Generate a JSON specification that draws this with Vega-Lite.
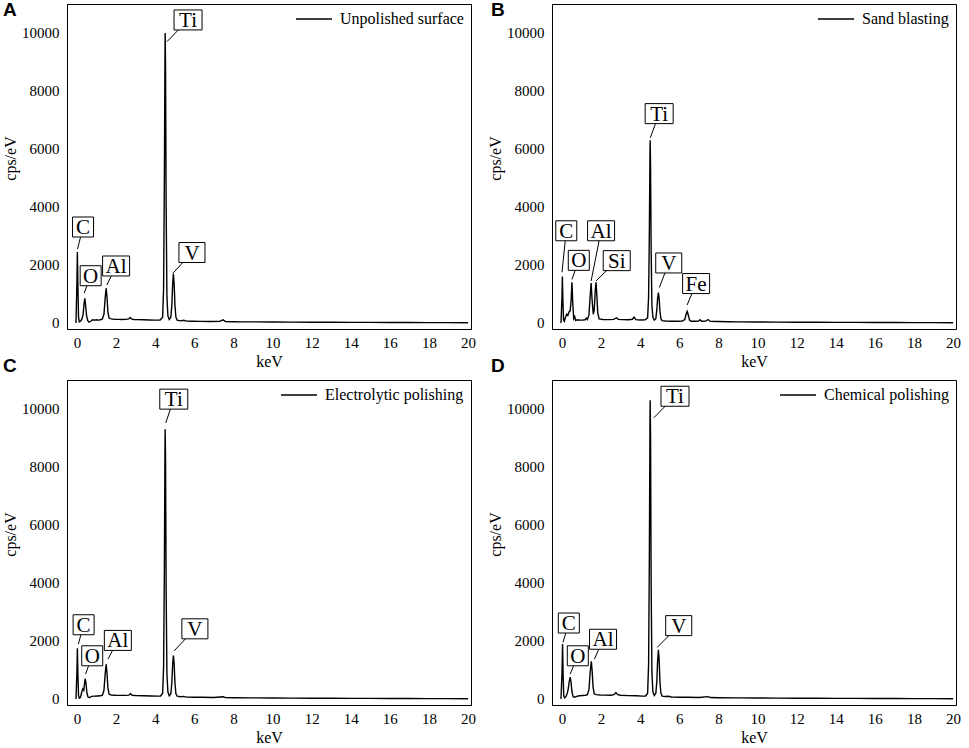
{
  "$schema": "https://vega.github.io/schema/vega-lite/v6.json",
  "padding": {"left": 2, "top": 0, "right": 4, "bottom": 4},
  "background": "white",
  "datasets": {
    "spec": [
      {"s":"Unpolished surface","e":-0.05,"c":0},{"s":"Unpolished surface","e":0.0,"c":1500},{"s":"Unpolished surface","e":0.02,"c":2450},{"s":"Unpolished surface","e":0.05,"c":1200},{"s":"Unpolished surface","e":0.08,"c":200},{"s":"Unpolished surface","e":0.12,"c":40},{"s":"Unpolished surface","e":0.18,"c":60},{"s":"Unpolished surface","e":0.25,"c":130},{"s":"Unpolished surface","e":0.31,"c":280},{"s":"Unpolished surface","e":0.36,"c":650},{"s":"Unpolished surface","e":0.40,"c":850},{"s":"Unpolished surface","e":0.44,"c":620},{"s":"Unpolished surface","e":0.49,"c":250},{"s":"Unpolished surface","e":0.55,"c":80},{"s":"Unpolished surface","e":0.62,"c":30},{"s":"Unpolished surface","e":0.7,"c":60},{"s":"Unpolished surface","e":0.8,"c":110},{"s":"Unpolished surface","e":0.9,"c":100},{"s":"Unpolished surface","e":1.0,"c":110},{"s":"Unpolished surface","e":1.1,"c":100},{"s":"Unpolished surface","e":1.2,"c":110},{"s":"Unpolished surface","e":1.3,"c":140},{"s":"Unpolished surface","e":1.38,"c":300},{"s":"Unpolished surface","e":1.44,"c":850},{"s":"Unpolished surface","e":1.49,"c":1200},{"s":"Unpolished surface","e":1.53,"c":950},{"s":"Unpolished surface","e":1.58,"c":400},{"s":"Unpolished surface","e":1.64,"c":170},{"s":"Unpolished surface","e":1.75,"c":140},{"s":"Unpolished surface","e":1.9,"c":130},{"s":"Unpolished surface","e":2.1,"c":125},{"s":"Unpolished surface","e":2.3,"c":120},{"s":"Unpolished surface","e":2.5,"c":125},{"s":"Unpolished surface","e":2.65,"c":140},{"s":"Unpolished surface","e":2.72,"c":190},{"s":"Unpolished surface","e":2.79,"c":140},{"s":"Unpolished surface","e":2.9,"c":120},{"s":"Unpolished surface","e":3.1,"c":115},{"s":"Unpolished surface","e":3.4,"c":110},{"s":"Unpolished surface","e":3.7,"c":105},{"s":"Unpolished surface","e":4.0,"c":100},{"s":"Unpolished surface","e":4.25,"c":105},{"s":"Unpolished surface","e":4.38,"c":200},{"s":"Unpolished surface","e":4.43,"c":1200},{"s":"Unpolished surface","e":4.47,"c":5000},{"s":"Unpolished surface","e":4.50,"c":9200},{"s":"Unpolished surface","e":4.51,"c":10000},{"s":"Unpolished surface","e":4.53,"c":8800},{"s":"Unpolished surface","e":4.56,"c":4000},{"s":"Unpolished surface","e":4.60,"c":900},{"s":"Unpolished surface","e":4.65,"c":250},{"s":"Unpolished surface","e":4.72,"c":120},{"s":"Unpolished surface","e":4.8,"c":200},{"s":"Unpolished surface","e":4.85,"c":600},{"s":"Unpolished surface","e":4.89,"c":1300},{"s":"Unpolished surface","e":4.93,"c":1700},{"s":"Unpolished surface","e":4.97,"c":1350},{"s":"Unpolished surface","e":5.01,"c":600},{"s":"Unpolished surface","e":5.06,"c":200},{"s":"Unpolished surface","e":5.12,"c":100},{"s":"Unpolished surface","e":5.3,"c":75},{"s":"Unpolished surface","e":5.45,"c":95},{"s":"Unpolished surface","e":5.6,"c":65},{"s":"Unpolished surface","e":5.9,"c":60},{"s":"Unpolished surface","e":6.3,"c":55},{"s":"Unpolished surface","e":6.8,"c":52},{"s":"Unpolished surface","e":7.3,"c":55},{"s":"Unpolished surface","e":7.47,"c":110},{"s":"Unpolished surface","e":7.6,"c":50},{"s":"Unpolished surface","e":8.0,"c":45},{"s":"Unpolished surface","e":8.5,"c":40},{"s":"Unpolished surface","e":9,"c":40},{"s":"Unpolished surface","e":10,"c":35},{"s":"Unpolished surface","e":11,"c":30},{"s":"Unpolished surface","e":12,"c":28},{"s":"Unpolished surface","e":13,"c":25},{"s":"Unpolished surface","e":14,"c":22},{"s":"Unpolished surface","e":15,"c":20},{"s":"Unpolished surface","e":16,"c":18},{"s":"Unpolished surface","e":17,"c":15},{"s":"Unpolished surface","e":18,"c":13},{"s":"Unpolished surface","e":19,"c":12},{"s":"Unpolished surface","e":20,"c":10},

      {"s":"Sand blasting","e":-0.05,"c":0},{"s":"Sand blasting","e":0.0,"c":900},{"s":"Sand blasting","e":0.02,"c":1600},{"s":"Sand blasting","e":0.05,"c":700},{"s":"Sand blasting","e":0.08,"c":100},{"s":"Sand blasting","e":0.12,"c":60},{"s":"Sand blasting","e":0.18,"c":200},{"s":"Sand blasting","e":0.24,"c":300},{"s":"Sand blasting","e":0.3,"c":260},{"s":"Sand blasting","e":0.36,"c":380},{"s":"Sand blasting","e":0.42,"c":420},{"s":"Sand blasting","e":0.47,"c":800},{"s":"Sand blasting","e":0.51,"c":1400},{"s":"Sand blasting","e":0.55,"c":700},{"s":"Sand blasting","e":0.6,"c":150},{"s":"Sand blasting","e":0.65,"c":220},{"s":"Sand blasting","e":0.7,"c":90},{"s":"Sand blasting","e":0.8,"c":110},{"s":"Sand blasting","e":0.9,"c":100},{"s":"Sand blasting","e":1.05,"c":100},{"s":"Sand blasting","e":1.18,"c":110},{"s":"Sand blasting","e":1.25,"c":170},{"s":"Sand blasting","e":1.3,"c":120},{"s":"Sand blasting","e":1.38,"c":280},{"s":"Sand blasting","e":1.44,"c":900},{"s":"Sand blasting","e":1.49,"c":1380},{"s":"Sand blasting","e":1.54,"c":800},{"s":"Sand blasting","e":1.6,"c":300},{"s":"Sand blasting","e":1.65,"c":450},{"s":"Sand blasting","e":1.70,"c":1100},{"s":"Sand blasting","e":1.74,"c":1400},{"s":"Sand blasting","e":1.78,"c":1000},{"s":"Sand blasting","e":1.83,"c":350},{"s":"Sand blasting","e":1.9,"c":140},{"s":"Sand blasting","e":2.1,"c":120},{"s":"Sand blasting","e":2.4,"c":115},{"s":"Sand blasting","e":2.65,"c":125},{"s":"Sand blasting","e":2.78,"c":180},{"s":"Sand blasting","e":2.88,"c":125},{"s":"Sand blasting","e":3.1,"c":115},{"s":"Sand blasting","e":3.4,"c":110},{"s":"Sand blasting","e":3.6,"c":130},{"s":"Sand blasting","e":3.69,"c":200},{"s":"Sand blasting","e":3.78,"c":115},{"s":"Sand blasting","e":4.0,"c":105},{"s":"Sand blasting","e":4.25,"c":110},{"s":"Sand blasting","e":4.38,"c":180},{"s":"Sand blasting","e":4.43,"c":900},{"s":"Sand blasting","e":4.47,"c":3200},{"s":"Sand blasting","e":4.50,"c":5800},{"s":"Sand blasting","e":4.51,"c":6300},{"s":"Sand blasting","e":4.53,"c":5400},{"s":"Sand blasting","e":4.56,"c":2500},{"s":"Sand blasting","e":4.60,"c":600},{"s":"Sand blasting","e":4.65,"c":200},{"s":"Sand blasting","e":4.72,"c":100},{"s":"Sand blasting","e":4.8,"c":150},{"s":"Sand blasting","e":4.85,"c":450},{"s":"Sand blasting","e":4.89,"c":850},{"s":"Sand blasting","e":4.93,"c":1050},{"s":"Sand blasting","e":4.97,"c":850},{"s":"Sand blasting","e":5.01,"c":400},{"s":"Sand blasting","e":5.06,"c":150},{"s":"Sand blasting","e":5.12,"c":80},{"s":"Sand blasting","e":5.3,"c":70},{"s":"Sand blasting","e":5.6,"c":60},{"s":"Sand blasting","e":5.9,"c":60},{"s":"Sand blasting","e":6.15,"c":65},{"s":"Sand blasting","e":6.28,"c":120},{"s":"Sand blasting","e":6.35,"c":300},{"s":"Sand blasting","e":6.40,"c":400},{"s":"Sand blasting","e":6.45,"c":300},{"s":"Sand blasting","e":6.52,"c":110},{"s":"Sand blasting","e":6.6,"c":60},{"s":"Sand blasting","e":6.8,"c":60},{"s":"Sand blasting","e":6.98,"c":70},{"s":"Sand blasting","e":7.06,"c":110},{"s":"Sand blasting","e":7.13,"c":60},{"s":"Sand blasting","e":7.35,"c":65},{"s":"Sand blasting","e":7.47,"c":120},{"s":"Sand blasting","e":7.58,"c":55},{"s":"Sand blasting","e":8.0,"c":50},{"s":"Sand blasting","e":8.5,"c":45},{"s":"Sand blasting","e":9,"c":40},{"s":"Sand blasting","e":10,"c":35},{"s":"Sand blasting","e":11,"c":30},{"s":"Sand blasting","e":12,"c":28},{"s":"Sand blasting","e":13,"c":25},{"s":"Sand blasting","e":14,"c":22},{"s":"Sand blasting","e":15,"c":20},{"s":"Sand blasting","e":16,"c":18},{"s":"Sand blasting","e":17,"c":15},{"s":"Sand blasting","e":18,"c":13},{"s":"Sand blasting","e":19,"c":12},{"s":"Sand blasting","e":20,"c":10},

      {"s":"Electrolytic polishing","e":-0.05,"c":0},{"s":"Electrolytic polishing","e":0.0,"c":1000},{"s":"Electrolytic polishing","e":0.02,"c":1750},{"s":"Electrolytic polishing","e":0.05,"c":800},{"s":"Electrolytic polishing","e":0.08,"c":120},{"s":"Electrolytic polishing","e":0.12,"c":30},{"s":"Electrolytic polishing","e":0.18,"c":60},{"s":"Electrolytic polishing","e":0.25,"c":250},{"s":"Electrolytic polishing","e":0.3,"c":350},{"s":"Electrolytic polishing","e":0.35,"c":300},{"s":"Electrolytic polishing","e":0.39,"c":550},{"s":"Electrolytic polishing","e":0.42,"c":700},{"s":"Electrolytic polishing","e":0.46,"c":550},{"s":"Electrolytic polishing","e":0.51,"c":200},{"s":"Electrolytic polishing","e":0.57,"c":60},{"s":"Electrolytic polishing","e":0.65,"c":50},{"s":"Electrolytic polishing","e":0.75,"c":90},{"s":"Electrolytic polishing","e":0.9,"c":100},{"s":"Electrolytic polishing","e":1.05,"c":105},{"s":"Electrolytic polishing","e":1.2,"c":110},{"s":"Electrolytic polishing","e":1.3,"c":130},{"s":"Electrolytic polishing","e":1.38,"c":300},{"s":"Electrolytic polishing","e":1.44,"c":850},{"s":"Electrolytic polishing","e":1.49,"c":1200},{"s":"Electrolytic polishing","e":1.53,"c":950},{"s":"Electrolytic polishing","e":1.58,"c":400},{"s":"Electrolytic polishing","e":1.64,"c":170},{"s":"Electrolytic polishing","e":1.75,"c":140},{"s":"Electrolytic polishing","e":1.95,"c":130},{"s":"Electrolytic polishing","e":2.2,"c":125},{"s":"Electrolytic polishing","e":2.5,"c":125},{"s":"Electrolytic polishing","e":2.65,"c":135},{"s":"Electrolytic polishing","e":2.74,"c":180},{"s":"Electrolytic polishing","e":2.82,"c":130},{"s":"Electrolytic polishing","e":3.0,"c":120},{"s":"Electrolytic polishing","e":3.4,"c":110},{"s":"Electrolytic polishing","e":3.8,"c":105},{"s":"Electrolytic polishing","e":4.1,"c":100},{"s":"Electrolytic polishing","e":4.28,"c":105},{"s":"Electrolytic polishing","e":4.38,"c":200},{"s":"Electrolytic polishing","e":4.43,"c":1100},{"s":"Electrolytic polishing","e":4.47,"c":4500},{"s":"Electrolytic polishing","e":4.50,"c":8600},{"s":"Electrolytic polishing","e":4.51,"c":9300},{"s":"Electrolytic polishing","e":4.53,"c":8200},{"s":"Electrolytic polishing","e":4.56,"c":3700},{"s":"Electrolytic polishing","e":4.60,"c":850},{"s":"Electrolytic polishing","e":4.65,"c":240},{"s":"Electrolytic polishing","e":4.72,"c":110},{"s":"Electrolytic polishing","e":4.8,"c":180},{"s":"Electrolytic polishing","e":4.85,"c":550},{"s":"Electrolytic polishing","e":4.89,"c":1150},{"s":"Electrolytic polishing","e":4.93,"c":1500},{"s":"Electrolytic polishing","e":4.97,"c":1200},{"s":"Electrolytic polishing","e":5.01,"c":550},{"s":"Electrolytic polishing","e":5.06,"c":180},{"s":"Electrolytic polishing","e":5.12,"c":100},{"s":"Electrolytic polishing","e":5.3,"c":80},{"s":"Electrolytic polishing","e":5.45,"c":90},{"s":"Electrolytic polishing","e":5.6,"c":65},{"s":"Electrolytic polishing","e":6.0,"c":60},{"s":"Electrolytic polishing","e":6.4,"c":58},{"s":"Electrolytic polishing","e":7.0,"c":50},{"s":"Electrolytic polishing","e":7.47,"c":75},{"s":"Electrolytic polishing","e":7.6,"c":48},{"s":"Electrolytic polishing","e":8,"c":45},{"s":"Electrolytic polishing","e":9,"c":40},{"s":"Electrolytic polishing","e":10,"c":35},{"s":"Electrolytic polishing","e":11,"c":30},{"s":"Electrolytic polishing","e":12,"c":28},{"s":"Electrolytic polishing","e":13,"c":25},{"s":"Electrolytic polishing","e":14,"c":22},{"s":"Electrolytic polishing","e":15,"c":20},{"s":"Electrolytic polishing","e":16,"c":18},{"s":"Electrolytic polishing","e":17,"c":15},{"s":"Electrolytic polishing","e":18,"c":13},{"s":"Electrolytic polishing","e":19,"c":12},{"s":"Electrolytic polishing","e":20,"c":10},

      {"s":"Chemical polishing","e":-0.05,"c":0},{"s":"Chemical polishing","e":0.0,"c":900},{"s":"Chemical polishing","e":0.03,"c":1900},{"s":"Chemical polishing","e":0.06,"c":800},{"s":"Chemical polishing","e":0.09,"c":120},{"s":"Chemical polishing","e":0.13,"c":40},{"s":"Chemical polishing","e":0.2,"c":80},{"s":"Chemical polishing","e":0.27,"c":200},{"s":"Chemical polishing","e":0.32,"c":350},{"s":"Chemical polishing","e":0.37,"c":600},{"s":"Chemical polishing","e":0.42,"c":750},{"s":"Chemical polishing","e":0.46,"c":600},{"s":"Chemical polishing","e":0.51,"c":250},{"s":"Chemical polishing","e":0.57,"c":80},{"s":"Chemical polishing","e":0.65,"c":60},{"s":"Chemical polishing","e":0.75,"c":90},{"s":"Chemical polishing","e":0.9,"c":110},{"s":"Chemical polishing","e":1.05,"c":120},{"s":"Chemical polishing","e":1.2,"c":130},{"s":"Chemical polishing","e":1.3,"c":150},{"s":"Chemical polishing","e":1.38,"c":320},{"s":"Chemical polishing","e":1.44,"c":900},{"s":"Chemical polishing","e":1.50,"c":1300},{"s":"Chemical polishing","e":1.54,"c":1000},{"s":"Chemical polishing","e":1.59,"c":420},{"s":"Chemical polishing","e":1.65,"c":180},{"s":"Chemical polishing","e":1.75,"c":150},{"s":"Chemical polishing","e":1.95,"c":140},{"s":"Chemical polishing","e":2.2,"c":135},{"s":"Chemical polishing","e":2.5,"c":130},{"s":"Chemical polishing","e":2.66,"c":150},{"s":"Chemical polishing","e":2.76,"c":220},{"s":"Chemical polishing","e":2.85,"c":150},{"s":"Chemical polishing","e":3.0,"c":130},{"s":"Chemical polishing","e":3.4,"c":115},{"s":"Chemical polishing","e":3.8,"c":110},{"s":"Chemical polishing","e":4.1,"c":100},{"s":"Chemical polishing","e":4.28,"c":105},{"s":"Chemical polishing","e":4.38,"c":200},{"s":"Chemical polishing","e":4.43,"c":1200},{"s":"Chemical polishing","e":4.47,"c":5000},{"s":"Chemical polishing","e":4.50,"c":9500},{"s":"Chemical polishing","e":4.51,"c":10300},{"s":"Chemical polishing","e":4.53,"c":9000},{"s":"Chemical polishing","e":4.56,"c":4000},{"s":"Chemical polishing","e":4.60,"c":900},{"s":"Chemical polishing","e":4.65,"c":250},{"s":"Chemical polishing","e":4.72,"c":120},{"s":"Chemical polishing","e":4.8,"c":200},{"s":"Chemical polishing","e":4.85,"c":600},{"s":"Chemical polishing","e":4.89,"c":1300},{"s":"Chemical polishing","e":4.93,"c":1700},{"s":"Chemical polishing","e":4.97,"c":1350},{"s":"Chemical polishing","e":5.01,"c":600},{"s":"Chemical polishing","e":5.06,"c":200},{"s":"Chemical polishing","e":5.12,"c":100},{"s":"Chemical polishing","e":5.3,"c":85},{"s":"Chemical polishing","e":5.45,"c":95},{"s":"Chemical polishing","e":5.6,"c":70},{"s":"Chemical polishing","e":6.0,"c":60},{"s":"Chemical polishing","e":6.4,"c":58},{"s":"Chemical polishing","e":7.0,"c":52},{"s":"Chemical polishing","e":7.47,"c":80},{"s":"Chemical polishing","e":7.6,"c":50},{"s":"Chemical polishing","e":8,"c":45},{"s":"Chemical polishing","e":9,"c":40},{"s":"Chemical polishing","e":10,"c":35},{"s":"Chemical polishing","e":11,"c":30},{"s":"Chemical polishing","e":12,"c":28},{"s":"Chemical polishing","e":13,"c":25},{"s":"Chemical polishing","e":14,"c":22},{"s":"Chemical polishing","e":15,"c":20},{"s":"Chemical polishing","e":16,"c":18},{"s":"Chemical polishing","e":17,"c":15},{"s":"Chemical polishing","e":18,"c":13},{"s":"Chemical polishing","e":19,"c":12},{"s":"Chemical polishing","e":20,"c":10}
    ],
    "lab": [
      {"s":"Unpolished surface","el":"Ti","e":5.68,"c":10450,"e2":4.6,"c2":9700},
      {"s":"Unpolished surface","el":"C","e":0.31,"c":3310,"e2":0.03,"c2":2550},
      {"s":"Unpolished surface","el":"O","e":0.70,"c":1630,"e2":0.37,"c2":1030},
      {"s":"Unpolished surface","el":"Al","e":2.0,"c":1966,"e2":1.53,"c2":1310},
      {"s":"Unpolished surface","el":"V","e":5.88,"c":2430,"e2":4.9,"c2":1710},
      {"s":"Sand blasting","el":"Ti","e":4.97,"c":7220,"e2":4.52,"c2":6390},
      {"s":"Sand blasting","el":"C","e":0.22,"c":3180,"e2":0.0,"c2":1750},
      {"s":"Sand blasting","el":"O","e":0.86,"c":2160,"e2":0.51,"c2":1500},
      {"s":"Sand blasting","el":"Al","e":2.0,"c":3180,"e2":1.49,"c2":1450},
      {"s":"Sand blasting","el":"Si","e":2.8,"c":2150,"e2":1.74,"c2":1450},
      {"s":"Sand blasting","el":"V","e":5.46,"c":2070,"e2":4.98,"c2":1220},
      {"s":"Sand blasting","el":"Fe","e":6.86,"c":1360,"e2":6.4,"c2":620},
      {"s":"Electrolytic polishing","el":"Ti","e":4.95,"c":10340,"e2":4.54,"c2":9520},
      {"s":"Electrolytic polishing","el":"C","e":0.34,"c":2560,"e2":0.07,"c2":1890},
      {"s":"Electrolytic polishing","el":"O","e":0.78,"c":1490,"e2":0.44,"c2":860},
      {"s":"Electrolytic polishing","el":"Al","e":2.09,"c":2020,"e2":1.59,"c2":1380},
      {"s":"Electrolytic polishing","el":"V","e":6.03,"c":2420,"e2":4.97,"c2":1660},
      {"s":"Chemical polishing","el":"Ti","e":5.78,"c":10440,"e2":4.7,"c2":9700},
      {"s":"Chemical polishing","el":"C","e":0.35,"c":2620,"e2":0.05,"c2":1950},
      {"s":"Chemical polishing","el":"O","e":0.81,"c":1490,"e2":0.42,"c2":860},
      {"s":"Chemical polishing","el":"Al","e":2.1,"c":2060,"e2":1.66,"c2":1375},
      {"s":"Chemical polishing","el":"V","e":5.97,"c":2530,"e2":4.87,"c2":1780}
    ]
  },
  "columns": 2,
  "spacing": {"row": 51, "column": 81},
  "bounds": "flush",
  "resolve": {"scale": {"color": "independent", "shape": "independent"}, "legend": {"color": "independent"}},
  "concat": [
    {
      "width": 404, "height": 325,
      "title": {"text": "A", "anchor": "start", "frame": "group", "offset": -31, "dx": -64, "baseline": "alphabetic"},
      "encoding": {
        "x": {"field": "e", "type": "quantitative", "title": "keV", "scale": {"domain": [-0.51, 20.15], "nice": false, "zero": false},
              "axis": {"values": [0,1,2,3,4,5,6,7,8,9,10,11,12,13,14,15,16,17,18,19,20], "labelExpr": "datum.value % 2 === 0 ? datum.label : ''", "encode": {"ticks": {"update": {"y2": {"signal": "datum.value % 2 === 0 ? -5 : -3"}}}}}},
        "y": {"field": "c", "type": "quantitative", "title": "cps/eV", "scale": {"domain": [-207, 11000], "nice": false, "zero": false},
              "axis": {"values": [0,1000,2000,3000,4000,5000,6000,7000,8000,9000,10000], "format": "d", "labelExpr": "datum.value % 2000 === 0 ? datum.label : ''", "encode": {"ticks": {"update": {"x2": {"signal": "datum.value % 2000 === 0 ? 5 : 3"}}}}}}
      },
      "layer": [
        {"data": {"name": "spec"}, "transform": [{"filter": "datum.s === 'Unpolished surface'"}], "mark": {"type": "line", "strokeWidth": 1.4, "clip": true},
         "encoding": {"color": {"field": "s", "type": "nominal", "scale": {"range": ["black"]}, "legend": {"orient": "top-right"}}}},
        {"data": {"name": "lab"}, "transform": [{"filter": "datum.s === 'Unpolished surface'"}], "mark": {"type": "rule", "color": "black", "strokeWidth": 1},
         "encoding": {"x2": {"field": "e2"}, "y2": {"field": "c2"}}},
        {"data": {"name": "lab"}, "transform": [{"filter": "datum.s === 'Unpolished surface'"}], "mark": {"type": "point", "filled": true, "fill": "white", "stroke": "black", "strokeWidth": 1, "opacity": 1, "size": 784},
         "encoding": {"shape": {"field": "el", "type": "nominal", "legend": null, "scale": {"domain": ["C","O","V","Al","Ti","Si","Fe"], "range": ["M-0.75,-0.714H0.75V0.714H-0.75Z","M-0.75,-0.714H0.75V0.714H-0.75Z","M-0.93,-0.714H0.93V0.714H-0.93Z","M-0.964,-0.714H0.964V0.714H-0.964Z","M-1,-0.714H1V0.714H-1Z","M-0.964,-0.714H0.964V0.714H-0.964Z","M-0.964,-0.714H0.964V0.714H-0.964Z"]}}}},
        {"data": {"name": "lab"}, "transform": [{"filter": "datum.s === 'Unpolished surface'"}], "mark": {"type": "text", "font": "Liberation Serif", "fontSize": 21, "color": "black", "baseline": "middle", "align": "center", "dy": 1},
         "encoding": {"text": {"field": "el"}}}
      ]
    },
    {
      "width": 404, "height": 325,
      "title": {"text": "B", "anchor": "start", "frame": "group", "offset": -31, "dx": -61, "baseline": "alphabetic"},
      "encoding": {
        "x": {"field": "e", "type": "quantitative", "title": "keV", "scale": {"domain": [-0.51, 20.15], "nice": false, "zero": false},
              "axis": {"values": [0,1,2,3,4,5,6,7,8,9,10,11,12,13,14,15,16,17,18,19,20], "labelExpr": "datum.value % 2 === 0 ? datum.label : ''", "encode": {"ticks": {"update": {"y2": {"signal": "datum.value % 2 === 0 ? -5 : -3"}}}}}},
        "y": {"field": "c", "type": "quantitative", "title": "cps/eV", "scale": {"domain": [-207, 11000], "nice": false, "zero": false},
              "axis": {"values": [0,1000,2000,3000,4000,5000,6000,7000,8000,9000,10000], "format": "d", "labelExpr": "datum.value % 2000 === 0 ? datum.label : ''", "encode": {"ticks": {"update": {"x2": {"signal": "datum.value % 2000 === 0 ? 5 : 3"}}}}}}
      },
      "layer": [
        {"data": {"name": "spec"}, "transform": [{"filter": "datum.s === 'Sand blasting'"}], "mark": {"type": "line", "strokeWidth": 1.4, "clip": true},
         "encoding": {"color": {"field": "s", "type": "nominal", "scale": {"range": ["black"]}, "legend": {"orient": "top-right"}}}},
        {"data": {"name": "lab"}, "transform": [{"filter": "datum.s === 'Sand blasting'"}], "mark": {"type": "rule", "color": "black", "strokeWidth": 1},
         "encoding": {"x2": {"field": "e2"}, "y2": {"field": "c2"}}},
        {"data": {"name": "lab"}, "transform": [{"filter": "datum.s === 'Sand blasting'"}], "mark": {"type": "point", "filled": true, "fill": "white", "stroke": "black", "strokeWidth": 1, "opacity": 1, "size": 784},
         "encoding": {"shape": {"field": "el", "type": "nominal", "legend": null, "scale": {"domain": ["C","O","V","Al","Ti","Si","Fe"], "range": ["M-0.75,-0.714H0.75V0.714H-0.75Z","M-0.75,-0.714H0.75V0.714H-0.75Z","M-0.93,-0.714H0.93V0.714H-0.93Z","M-0.964,-0.714H0.964V0.714H-0.964Z","M-1,-0.714H1V0.714H-1Z","M-0.964,-0.714H0.964V0.714H-0.964Z","M-0.964,-0.714H0.964V0.714H-0.964Z"]}}}},
        {"data": {"name": "lab"}, "transform": [{"filter": "datum.s === 'Sand blasting'"}], "mark": {"type": "text", "font": "Liberation Serif", "fontSize": 21, "color": "black", "baseline": "middle", "align": "center", "dy": 1},
         "encoding": {"text": {"field": "el"}}}
      ]
    },
    {
      "width": 404, "height": 325,
      "title": {"text": "C", "anchor": "start", "frame": "group", "offset": -11, "dx": -64, "baseline": "alphabetic"},
      "encoding": {
        "x": {"field": "e", "type": "quantitative", "title": "keV", "scale": {"domain": [-0.51, 20.15], "nice": false, "zero": false},
              "axis": {"values": [0,1,2,3,4,5,6,7,8,9,10,11,12,13,14,15,16,17,18,19,20], "labelExpr": "datum.value % 2 === 0 ? datum.label : ''", "encode": {"ticks": {"update": {"y2": {"signal": "datum.value % 2 === 0 ? -5 : -3"}}}}}},
        "y": {"field": "c", "type": "quantitative", "title": "cps/eV", "scale": {"domain": [-207, 11000], "nice": false, "zero": false},
              "axis": {"values": [0,1000,2000,3000,4000,5000,6000,7000,8000,9000,10000], "format": "d", "labelExpr": "datum.value % 2000 === 0 ? datum.label : ''", "encode": {"ticks": {"update": {"x2": {"signal": "datum.value % 2000 === 0 ? 5 : 3"}}}}}}
      },
      "layer": [
        {"data": {"name": "spec"}, "transform": [{"filter": "datum.s === 'Electrolytic polishing'"}], "mark": {"type": "line", "strokeWidth": 1.4, "clip": true},
         "encoding": {"color": {"field": "s", "type": "nominal", "scale": {"range": ["black"]}, "legend": {"orient": "top-right"}}}},
        {"data": {"name": "lab"}, "transform": [{"filter": "datum.s === 'Electrolytic polishing'"}], "mark": {"type": "rule", "color": "black", "strokeWidth": 1},
         "encoding": {"x2": {"field": "e2"}, "y2": {"field": "c2"}}},
        {"data": {"name": "lab"}, "transform": [{"filter": "datum.s === 'Electrolytic polishing'"}], "mark": {"type": "point", "filled": true, "fill": "white", "stroke": "black", "strokeWidth": 1, "opacity": 1, "size": 784},
         "encoding": {"shape": {"field": "el", "type": "nominal", "legend": null, "scale": {"domain": ["C","O","V","Al","Ti","Si","Fe"], "range": ["M-0.75,-0.714H0.75V0.714H-0.75Z","M-0.75,-0.714H0.75V0.714H-0.75Z","M-0.93,-0.714H0.93V0.714H-0.93Z","M-0.964,-0.714H0.964V0.714H-0.964Z","M-1,-0.714H1V0.714H-1Z","M-0.964,-0.714H0.964V0.714H-0.964Z","M-0.964,-0.714H0.964V0.714H-0.964Z"]}}}},
        {"data": {"name": "lab"}, "transform": [{"filter": "datum.s === 'Electrolytic polishing'"}], "mark": {"type": "text", "font": "Liberation Serif", "fontSize": 21, "color": "black", "baseline": "middle", "align": "center", "dy": 1},
         "encoding": {"text": {"field": "el"}}}
      ]
    },
    {
      "width": 404, "height": 325,
      "title": {"text": "D", "anchor": "start", "frame": "group", "offset": -11, "dx": -61, "baseline": "alphabetic"},
      "encoding": {
        "x": {"field": "e", "type": "quantitative", "title": "keV", "scale": {"domain": [-0.51, 20.15], "nice": false, "zero": false},
              "axis": {"values": [0,1,2,3,4,5,6,7,8,9,10,11,12,13,14,15,16,17,18,19,20], "labelExpr": "datum.value % 2 === 0 ? datum.label : ''", "encode": {"ticks": {"update": {"y2": {"signal": "datum.value % 2 === 0 ? -5 : -3"}}}}}},
        "y": {"field": "c", "type": "quantitative", "title": "cps/eV", "scale": {"domain": [-207, 11000], "nice": false, "zero": false},
              "axis": {"values": [0,1000,2000,3000,4000,5000,6000,7000,8000,9000,10000], "format": "d", "labelExpr": "datum.value % 2000 === 0 ? datum.label : ''", "encode": {"ticks": {"update": {"x2": {"signal": "datum.value % 2000 === 0 ? 5 : 3"}}}}}}
      },
      "layer": [
        {"data": {"name": "spec"}, "transform": [{"filter": "datum.s === 'Chemical polishing'"}], "mark": {"type": "line", "strokeWidth": 1.4, "clip": true},
         "encoding": {"color": {"field": "s", "type": "nominal", "scale": {"range": ["black"]}, "legend": {"orient": "top-right"}}}},
        {"data": {"name": "lab"}, "transform": [{"filter": "datum.s === 'Chemical polishing'"}], "mark": {"type": "rule", "color": "black", "strokeWidth": 1},
         "encoding": {"x2": {"field": "e2"}, "y2": {"field": "c2"}}},
        {"data": {"name": "lab"}, "transform": [{"filter": "datum.s === 'Chemical polishing'"}], "mark": {"type": "point", "filled": true, "fill": "white", "stroke": "black", "strokeWidth": 1, "opacity": 1, "size": 784},
         "encoding": {"shape": {"field": "el", "type": "nominal", "legend": null, "scale": {"domain": ["C","O","V","Al","Ti","Si","Fe"], "range": ["M-0.75,-0.714H0.75V0.714H-0.75Z","M-0.75,-0.714H0.75V0.714H-0.75Z","M-0.93,-0.714H0.93V0.714H-0.93Z","M-0.964,-0.714H0.964V0.714H-0.964Z","M-1,-0.714H1V0.714H-1Z","M-0.964,-0.714H0.964V0.714H-0.964Z","M-0.964,-0.714H0.964V0.714H-0.964Z"]}}}},
        {"data": {"name": "lab"}, "transform": [{"filter": "datum.s === 'Chemical polishing'"}], "mark": {"type": "text", "font": "Liberation Serif", "fontSize": 21, "color": "black", "baseline": "middle", "align": "center", "dy": 1},
         "encoding": {"text": {"field": "el"}}}
      ]
    }
  ],
  "config": {
    "font": "Liberation Serif",
    "view": {"stroke": "black", "strokeWidth": 1},
    "title": {"font": "Liberation Sans", "fontSize": 19, "fontWeight": "bold", "color": "black"},
    "axis": {"grid": false, "domainColor": "black", "domainWidth": 1, "tickColor": "black", "tickWidth": 1, "tickSize": 0,
             "labelFont": "Liberation Serif", "labelFontSize": 15, "labelColor": "black", "labelOverlap": false, "labelFlush": false,
             "titleFont": "Liberation Serif", "titleFontSize": 16, "titleFontWeight": "normal", "titleColor": "black"},
    "axisX": {"labelPadding": 6, "titlePadding": 3},
    "axisY": {"labelPadding": 8, "titlePadding": 3, "titleY": 154},
    "legend": {"title": null, "offset": 7, "padding": 0, "symbolType": "M-3,0H3", "symbolSize": 144, "symbolStrokeWidth": 1.5,
               "labelFont": "Liberation Serif", "labelFontSize": 16, "labelColor": "black", "labelOffset": 18, "labelLimit": 300}
  }
}
